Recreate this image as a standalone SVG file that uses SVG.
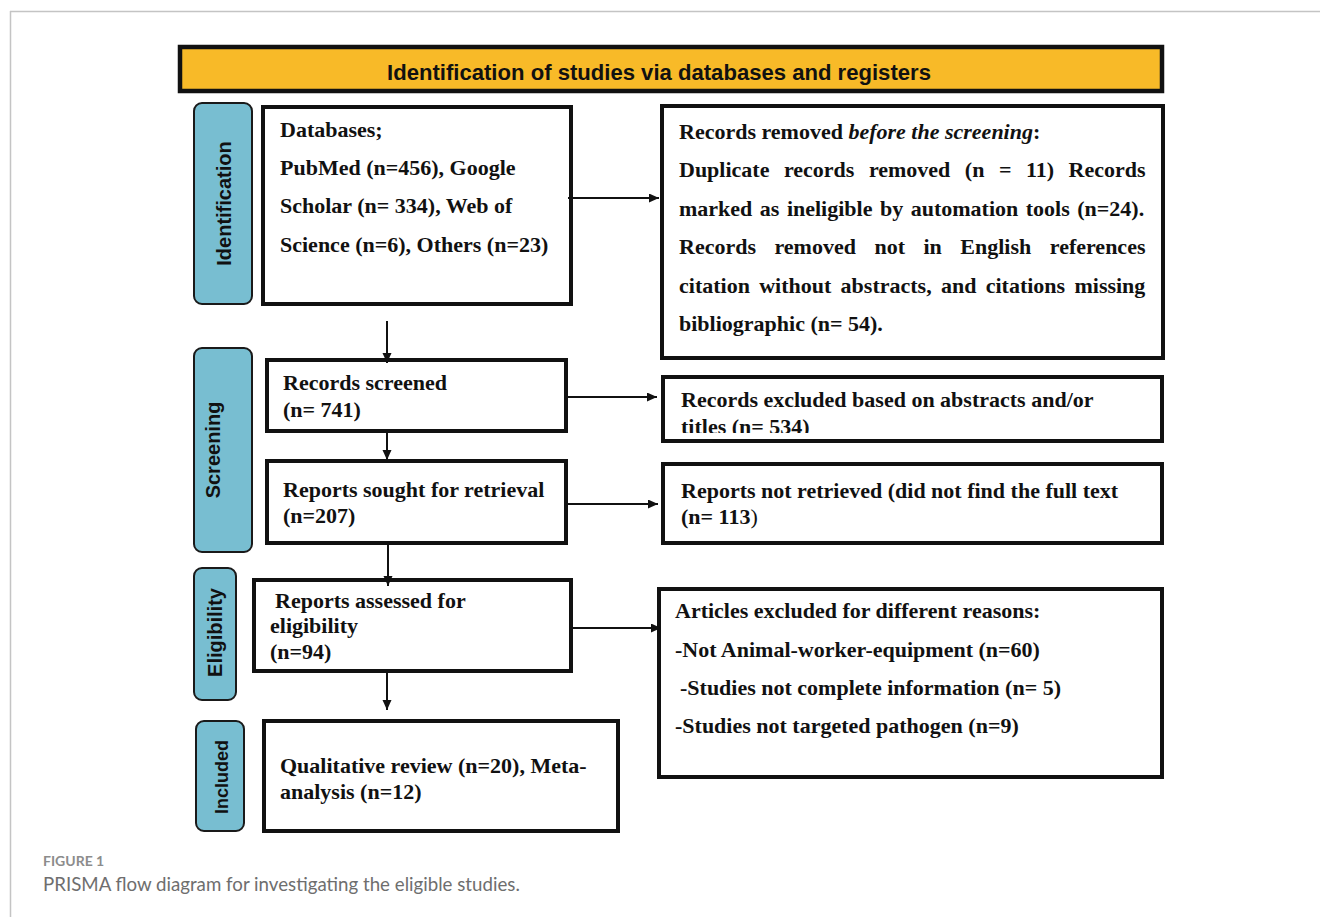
<svg xmlns="http://www.w3.org/2000/svg" width="1320" height="917" viewBox="0 0 1320 917">
<style>
.box{fill:#fff;stroke:#111;stroke-width:4}
.tab{fill:#78BED1;stroke:#1a1a1a;stroke-width:2}
.t{font-family:"Liberation Serif","Times New Roman",serif;font-weight:bold;font-size:22px;fill:#111}
.tabt{font-family:"Liberation Sans",Arial,sans-serif;font-weight:bold;font-size:20px;fill:#111;text-anchor:middle}
.conn{stroke:#111;stroke-width:2;fill:none}
</style>
<defs>
<marker id="ah" markerUnits="userSpaceOnUse" markerWidth="11" markerHeight="10" refX="10" refY="4.5" orient="auto">
<path d="M0,0 L10,4.5 L0,9 z" fill="#111"/>
</marker>
<clipPath id="clipEx"><rect x="663" y="377" width="499" height="56"/></clipPath>
</defs>
<rect x="0" y="0" width="1320" height="917" fill="#fff"/>
<g id="frame" stroke="#c4c4c4" stroke-width="1.5" fill="none">
<line x1="10" y1="11.5" x2="1320" y2="11.5"/>
<line x1="10.5" y1="11" x2="10.5" y2="917"/>
</g>
<g id="header">
<rect x="180" y="47" width="982" height="44" fill="#F8BA28" stroke="#111" stroke-width="4.5"/>
<text x="659" y="80" font-family="Liberation Sans, Arial, sans-serif" font-weight="bold" font-size="22.1" fill="#111" text-anchor="middle">Identification of studies via databases and registers</text>
</g>
<g id="tab-identification">
<rect class="tab" x="194" y="103" width="58" height="201" rx="8"/>
<text class="tabt" transform="translate(231,203.5) rotate(-90)">Identification</text>
</g>
<g id="tab-screening">
<rect class="tab" x="194" y="348" width="58" height="204" rx="8"/>
<text class="tabt" transform="translate(220,450) rotate(-90)">Screening</text>
</g>
<g id="tab-eligibility">
<rect class="tab" x="194" y="568" width="42" height="132" rx="8"/>
<text class="tabt" transform="translate(222,632.5) rotate(-90)">Eligibility</text>
</g>
<g id="tab-included">
<rect class="tab" x="196" y="721" width="48" height="110" rx="8"/>
<text class="tabt" style="font-size:18px" transform="translate(228,777) rotate(-90)">Included</text>
</g>
<g id="databases">
<rect class="box" x="263" y="107" width="308" height="197"/>
<text class="t" x="280" y="137">Databases;</text>
<text class="t" x="280" y="175">PubMed (n=456), Google</text>
<text class="t" x="280" y="213">Scholar (n= 334), Web of</text>
<text class="t" x="280" y="252">Science (n=6), Others (n=23)</text>
</g>
<g id="records-removed">
<rect class="box" x="662" y="106" width="501" height="252"/>
<text class="t" x="679" y="139">Records removed <tspan font-style="italic">before the screening</tspan>:</text>
<text class="t" x="679" y="177" word-spacing="9">Duplicate records removed (n = 11) Records</text>
<text class="t" x="679" y="216" word-spacing="2">marked as ineligible by automation tools (n=24).</text>
<text class="t" x="679" y="254" word-spacing="13">Records removed not in English references</text>
<text class="t" x="679" y="293" word-spacing="3.8">citation without abstracts, and citations missing</text>
<text class="t" x="679" y="331">bibliographic (n= 54).</text>
</g>
<g id="records-screened">
<rect class="box" x="267" y="360" width="299" height="71"/>
<text class="t" x="283" y="390">Records screened</text>
<text class="t" x="283" y="417">(n= 741)</text>
</g>
<g id="records-excluded">
<rect class="box" x="663" y="377" width="499" height="64"/>
<g clip-path="url(#clipEx)">
<text class="t" x="681" y="407">Records excluded based on abstracts and/or</text>
<text class="t" x="681" y="434">titles (n= 534)</text>
</g>
</g>
<g id="reports-sought">
<rect class="box" x="267" y="461" width="299" height="82"/>
<text class="t" x="283" y="497">Reports sought for retrieval</text>
<text class="t" x="283" y="523">(n=207)</text>
</g>
<g id="reports-not-retrieved">
<rect class="box" x="663" y="464" width="499" height="79"/>
<text class="t" x="681" y="498">Reports not retrieved (did not find the full text</text>
<text class="t" x="681" y="524">(n= 113<tspan font-weight="normal">)</tspan></text>
</g>
<g id="reports-assessed">
<rect class="box" x="254" y="580" width="317" height="91"/>
<text class="t" x="275" y="608">Reports assessed for</text>
<text class="t" x="270" y="633">eligibility</text>
<text class="t" x="270" y="659">(n=94)</text>
</g>
<g id="articles-excluded">
<rect class="box" x="659" y="589" width="503" height="188"/>
<text class="t" x="675" y="618">Articles excluded for different reasons:</text>
<text class="t" x="675" y="657">-Not Animal-worker-equipment (n=60)</text>
<text class="t" x="680" y="695">-Studies not complete information (n= 5)</text>
<text class="t" x="675" y="733">-Studies not targeted pathogen (n=9)</text>
</g>
<g id="included">
<rect class="box" x="264" y="721" width="354" height="110"/>
<text class="t" x="280" y="773">Qualitative review (n=20), Meta-</text>
<text class="t" x="280" y="799">analysis (n=12)</text>
</g>
<g id="connectors">
<line class="conn" x1="568" y1="198" x2="659" y2="198" marker-end="url(#ah)"/>
<line class="conn" x1="387" y1="321" x2="387" y2="363" marker-end="url(#ah)"/>
<line class="conn" x1="568" y1="397" x2="657" y2="397" marker-end="url(#ah)"/>
<line class="conn" x1="387" y1="433" x2="387" y2="460" marker-end="url(#ah)"/>
<line class="conn" x1="568" y1="504" x2="658" y2="504" marker-end="url(#ah)"/>
<line class="conn" x1="388" y1="545" x2="388" y2="586" marker-end="url(#ah)"/>
<line class="conn" x1="573" y1="628" x2="661" y2="628" marker-end="url(#ah)"/>
<line class="conn" x1="387" y1="673" x2="387" y2="710" marker-end="url(#ah)"/>
</g>
<g id="caption">
<text x="43" y="866" font-family="Lato, 'Open Sans', sans-serif" font-weight="bold" font-size="14" fill="#8c8c8c">FIGURE 1</text>
<text x="43" y="891" font-family="Lato, 'Open Sans', sans-serif" font-size="18.7" fill="#6e6e6e">PRISMA flow diagram for investigating the eligible studies.</text>
</g>
</svg>
